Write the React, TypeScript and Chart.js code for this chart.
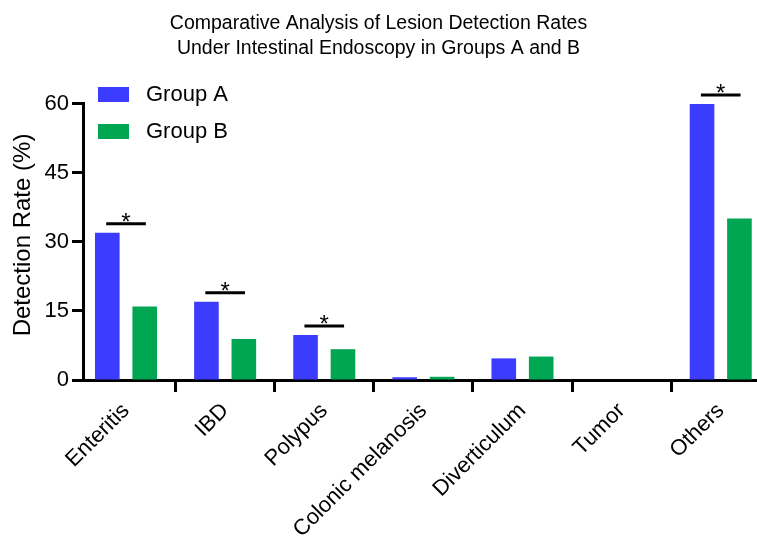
import { useEffect, useRef } from "react";
import { Chart, registerables } from "chart.js";

Chart.register(...registerables);

const categories = ["Enteritis", "IBD", "Polypus", "Colonic melanosis", "Diverticulum", "Tumor", "Others"];
const seriesNames = ["Group A", "Group B"];
const groupA = [32.0, 17.0, 9.8, 0.6, 4.7, 0, 60.0];
const groupB = [16.0, 8.9, 6.7, 0.7, 5.1, 0, 35.1];
const yTicks = [0, 15, 30, 45, 60];
const significant = ["Enteritis", "IBD", "Polypus", "Others"];
const colors = ["#3c3cff", "#00a651"];
const titleLines = [
  "Comparative Analysis of Lesion Detection Rates",
  "Under Intestinal Endoscopy in Groups A and B",
];
const yTitle = "Detection Rate (%)";

const FONT = "'Liberation Sans', Arial, Helvetica, sans-serif";

const overlayPlugin = {
  id: "overlay",
  afterDraw(chart: any) {
    const ctx = chart.ctx;
    const xs = chart.scales.x;
    const ys = chart.scales.y;
    ctx.save();
    // significance brackets
    ctx.strokeStyle = "#000";
    ctx.fillStyle = "#000";
    ctx.lineWidth = 3;
    significant.forEach((name) => {
      const i = categories.indexOf(name);
      const top = Math.max(groupA[i], groupB[i]);
      const y = ys.getPixelForValue(top) - 9;
      const x1 = xs.getPixelForValue(i - 0.2);
      const x2 = xs.getPixelForValue(i + 0.2);
      ctx.beginPath();
      ctx.moveTo(x1, y);
      ctx.lineTo(x2, y);
      ctx.stroke();
      ctx.font = `24px ${FONT}`;
      ctx.textAlign = "center";
      ctx.textBaseline = "alphabetic";
      ctx.fillText("*", xs.getPixelForValue(i), y + 6);
    });
    // legend
    const lx = 98;
    const ly = [87, 124];
    seriesNames.forEach((name, k) => {
      ctx.fillStyle = colors[k];
      ctx.fillRect(lx, ly[k], 31, 15);
      ctx.fillStyle = "#000";
      ctx.font = `22px ${FONT}`;
      ctx.textAlign = "left";
      ctx.textBaseline = "middle";
      ctx.fillText(name, 146, ly[k] + 8);
    });
    // y-axis title
    ctx.translate(23, 235);
    ctx.rotate(-Math.PI / 2);
    ctx.fillStyle = "#000";
    ctx.font = `24px ${FONT}`;
    ctx.textAlign = "center";
    ctx.textBaseline = "middle";
    ctx.fillText(yTitle, 0, 0);
    ctx.restore();
  },
};

export default function App() {
  const ref = useRef<HTMLCanvasElement | null>(null);
  useEffect(() => {
    if (!ref.current) return;
    const chart = new Chart(ref.current, {
      type: "bar",
      data: {
        datasets: [
          {
            label: seriesNames[0],
            data: groupA.map((v, i) => ({ x: i, y: v })),
            backgroundColor: colors[0],
          },
          {
            label: seriesNames[1],
            data: groupB.map((v, i) => ({ x: i, y: v })),
            backgroundColor: colors[1],
          },
        ],
      },
      options: {
        responsive: false,
        animation: false,
        devicePixelRatio: 1,
        categoryPercentage: 0.755,
        barPercentage: 0.658,
        layout: { padding: 0 },
        plugins: {
          legend: { display: false },
          tooltip: { enabled: false },
          title: {
            display: true,
            text: titleLines,
            color: "#000",
            font: { family: FONT, size: 19.5, weight: "normal", lineHeight: 1.282 },
            padding: { top: 11, bottom: 43 },
          },
        },
        scales: {
          x: {
            type: "linear",
            min: -0.434,
            max: 6.366,
            offset: false,
            afterBuildTicks: (s: any) => {
              s.ticks = categories.map((_, i) => ({ value: i }));
            },
            afterFit: (s: any) => {
              s.height = 161;
            },
            ticks: {
              callback: (v: any) => categories[Math.round(v)] ?? "",
              minRotation: 45,
              maxRotation: 45,
              autoSkip: false,
              color: "#000",
              padding: 6,
              font: { family: FONT, size: 22 },
            },
            grid: {
              display: true,
              drawOnChartArea: false,
              drawTicks: true,
              tickLength: 12,
              tickWidth: 3,
              tickColor: "#000",
            },
            border: { display: true, color: "#000", width: 3 },
          },
          y: {
            min: 0,
            max: 60,
            afterBuildTicks: (s: any) => {
              s.ticks = yTicks.map((v) => ({ value: v }));
            },
            afterFit: (s: any) => {
              s.width = 83;
            },
            ticks: {
              color: "#000",
              padding: 3,
              font: { family: FONT, size: 22 },
            },
            grid: {
              display: true,
              drawOnChartArea: false,
              drawTicks: true,
              tickLength: 11,
              tickWidth: 3,
              tickColor: "#000",
            },
            border: { display: true, color: "#000", width: 3 },
          },
        },
      },
      plugins: [overlayPlugin],
    } as any);
    return () => chart.destroy();
  }, []);
  return (
    <div style={{ position: "absolute", left: 0, top: 0, width: 757, height: 541, background: "#fff" }}>
      <canvas ref={ref} width={757} height={541} style={{ display: "block" }} />
    </div>
  );
}
